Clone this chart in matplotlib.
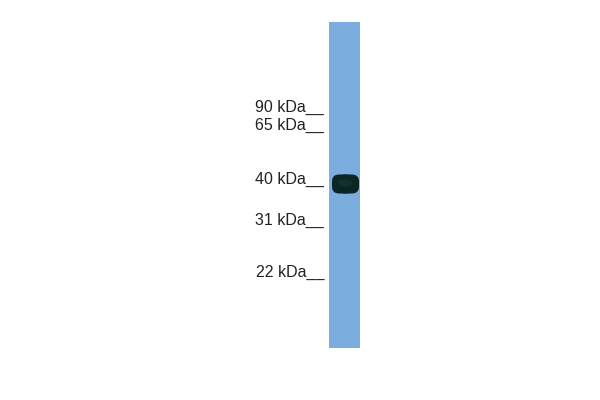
import matplotlib
matplotlib.use("Agg")
import matplotlib.pyplot as plt
from matplotlib.patches import Rectangle, Ellipse, FancyBboxPatch

# marcadores de peso molecular (etiqueta, línea base del texto en px)
marker_labels = ["90 kDa", "65 kDa", "40 kDa", "31 kDa", "22 kDa"]
marker_y = [112, 130, 184, 225, 277]

# carril y banda
lane_x = (329, 360)
lane_y = (22, 348)
band_center = (345.5, 184)
band_size = (27, 19)

fig = plt.figure(figsize=(6, 4), dpi=100)
ax = fig.add_axes([0, 0, 1, 1])
ax.set_xlim(0, 600)
ax.set_ylim(400, 0)
ax.axis("off")

# carril azul
ax.add_patch(Rectangle((lane_x[0], lane_y[0]), lane_x[1] - lane_x[0], lane_y[1] - lane_y[0],
                       facecolor="#7badde", edgecolor="none"))

# banda oscura (bordes redondeados, algo más plana arriba)
bw, bh = band_size
pad = 7
ax.add_patch(FancyBboxPatch((band_center[0] - bw / 2 + pad, band_center[1] - bh / 2 + pad),
                            bw - 2 * pad, bh - 2 * pad,
                            boxstyle=f"round,pad={pad}", facecolor="#0b2424", edgecolor="none"))
ax.add_patch(Ellipse(band_center, bw, bh, facecolor="#0b2424", edgecolor="none"))
ax.add_patch(Ellipse((band_center[0], band_center[1] - 1), bw * 0.55, bh * 0.4,
                     facecolor="#12302f", edgecolor="none"))

# etiquetas de marcadores
for lbl, y in zip(marker_labels, marker_y):
    ax.text(324, y, lbl + "__", ha="right", va="baseline", fontsize=11.5,
            family="Liberation Sans", color="#222222")

plt.savefig("out.png", dpi=100)
